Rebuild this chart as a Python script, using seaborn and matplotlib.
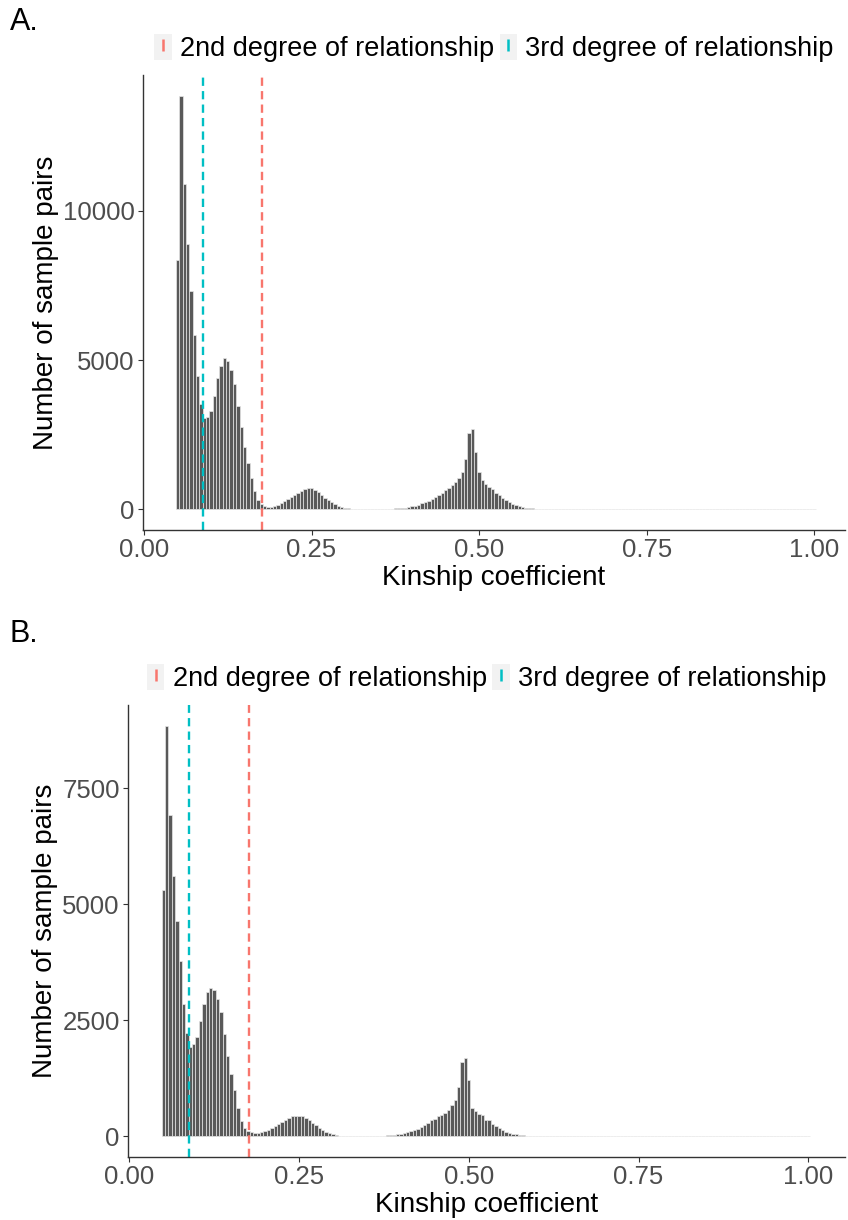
import numpy as np
import pandas as pd
import matplotlib
matplotlib.use("Agg")
import matplotlib.pyplot as plt
import seaborn as sns
from matplotlib.lines import Line2D
from matplotlib.patches import Patch

# histogram bins: width 0.005, centred on multiples of 0.005, first centre 0.05
bin_start = 0.0475
bin_width = 0.005
n_bins = 191
tail_start = 180  # first bin of the small bump near 1.00

# A. counts per bin, starting with the bin centred on 0.05
counts_a = [8370, 13860, 10900, 8880, 7300, 5845, 4460, 3540, 3050, 3080,
            3300, 3800, 4400, 4800, 5060, 4980, 4680, 4200, 3450, 2750,
            2100, 1550, 1050, 600, 300, 170, 110, 90, 90, 110,
            145, 200, 265, 335, 405, 470, 540, 610, 670, 700,
            700, 655, 570, 480, 390, 310, 240, 175, 120, 80,
            50, 30, 20, 12, 8, 6, 5, 4, 4, 5,
            6, 8, 10, 14, 20, 28, 38, 48, 60, 75,
            95, 120, 155, 195, 240, 295, 350, 410, 480, 560,
            640, 720, 800, 900, 1050, 1250, 1686, 2563, 2675, 1910,
            1236, 990, 843, 764, 674, 562, 472, 393, 315, 247,
            191, 146, 112, 79, 56, 40, 28, 18, 12, 8]
tail_a = [3, 5, 8, 12, 18, 25, 25, 18, 12, 6, 3]

# B. counts per bin, starting with the bin centred on 0.05
counts_b = [5306, 8846, 6929, 5615, 4645, 3784, 2850, 2219, 1917, 1989,
            2132, 2491, 2850, 3102, 3188, 3152, 2958, 2671, 2204, 1738,
            1343, 1000, 620, 330, 180, 120, 90, 72, 72, 93,
            115, 143, 180, 215, 258, 302, 359, 402, 431, 445,
            445, 431, 402, 345, 294, 244, 187, 144, 100, 72,
            50, 29, 14, 8, 6, 4, 3, 3, 3, 3,
            3, 4, 5, 7, 10, 14, 22, 29, 36, 43,
            57, 72, 93, 115, 144, 165, 201, 244, 287, 345,
            380, 431, 452, 510, 574, 668, 775, 1063, 1601, 1687,
            1220, 617, 546, 488, 452, 359, 345, 273, 215, 187,
            129, 93, 79, 57, 43, 29, 22, 14, 7, 4, 2]
tail_b = [2, 3, 5, 8, 12, 16, 16, 12, 8, 4, 2]

cutoff_2nd = 0.1768  # 2^-2.5
cutoff_3rd = 0.0884  # 2^-3.5
legend_labels = ["2nd degree of relationship", "3rd degree of relationship"]

red = "#F8766D"
cyan = "#00BFC4"
bar_fill = "#595959"
bar_edge = "#E6E6E6"

plt.rcParams["font.family"] = ["Liberation Sans", "DejaVu Sans"]

edges = bin_start + bin_width * np.arange(n_bins + 1)
centers = edges[:-1] + bin_width / 2


def draw_panel(ax, counts, tail, xlim, ylim, yticks):
    full = np.zeros(n_bins)
    full[:len(counts)] = counts
    full[tail_start:tail_start + len(tail)] = tail
    df = pd.DataFrame({"kinship": centers, "pairs": full})
    sns.histplot(data=df, x="kinship", weights="pairs", bins=list(edges), ax=ax,
                 color=bar_fill, edgecolor=bar_edge, linewidth=0.5, alpha=1)
    ax.axvline(cutoff_2nd, color=red, lw=1.7, ls=(0, (3.5, 2.2)))
    ax.axvline(cutoff_3rd, color=cyan, lw=1.7, ls=(0, (3.5, 2.2)))

    ax.set_xlim(*xlim)
    ax.set_ylim(*ylim)
    ax.set_xticks([0, 0.25, 0.5, 0.75, 1.0])
    ax.set_xticklabels(["0.00", "0.25", "0.50", "0.75", "1.00"])
    ax.set_yticks(yticks)
    ax.set_xlabel("Kinship coefficient", fontsize=20, color="black", labelpad=2)
    ax.set_ylabel("Number of sample pairs", fontsize=20, color="black", labelpad=3)
    ax.tick_params(labelsize=18.5, labelcolor="#4D4D4D", color="#333333",
                   length=3.5, width=0.8, pad=2.5)
    sns.despine(ax=ax)
    for s in ["left", "bottom"]:
        ax.spines[s].set_color("#333333")
        ax.spines[s].set_linewidth(1.0)

    handles = []
    for c in [red, cyan]:
        handles.append((Patch(facecolor="#F2F2F2", edgecolor="none"),
                        Line2D([], [], color=c, marker="|", linestyle="None",
                               markersize=9, markeredgewidth=1.8)))
    ax.legend(handles, legend_labels, ncol=2, loc="lower center",
              bbox_to_anchor=(0.5, 0.987), frameon=False, fontsize=19.5,
              handlelength=0.65, handleheight=1.1, handletextpad=0.3,
              columnspacing=0.2, borderpad=0.2)


fig = plt.figure(figsize=(8.48, 12.2), dpi=100)
ax_a = fig.add_axes([143 / 848, 1 - 530 / 1220, (845 - 143) / 848, (530 - 75) / 1220])
ax_b = fig.add_axes([128 / 848, 1 - 1157 / 1220, (845 - 128) / 848, (1157 - 705) / 1220])

draw_panel(ax_a, counts_a, tail_a, (-0.0015, 1.046), (-693, 14553), [0, 5000, 10000])
draw_panel(ax_b, counts_b, tail_b, (-0.0019, 1.0541), (-442, 9288), [0, 2500, 5000, 7500])

fig.text(10 / 848, 1 - 22 / 1220, "A.", fontsize=22, va="center", ha="left")
fig.text(10 / 848, 1 - 634 / 1220, "B.", fontsize=22, va="center", ha="left")

fig.savefig("out.png", dpi=100)
plt.close()
